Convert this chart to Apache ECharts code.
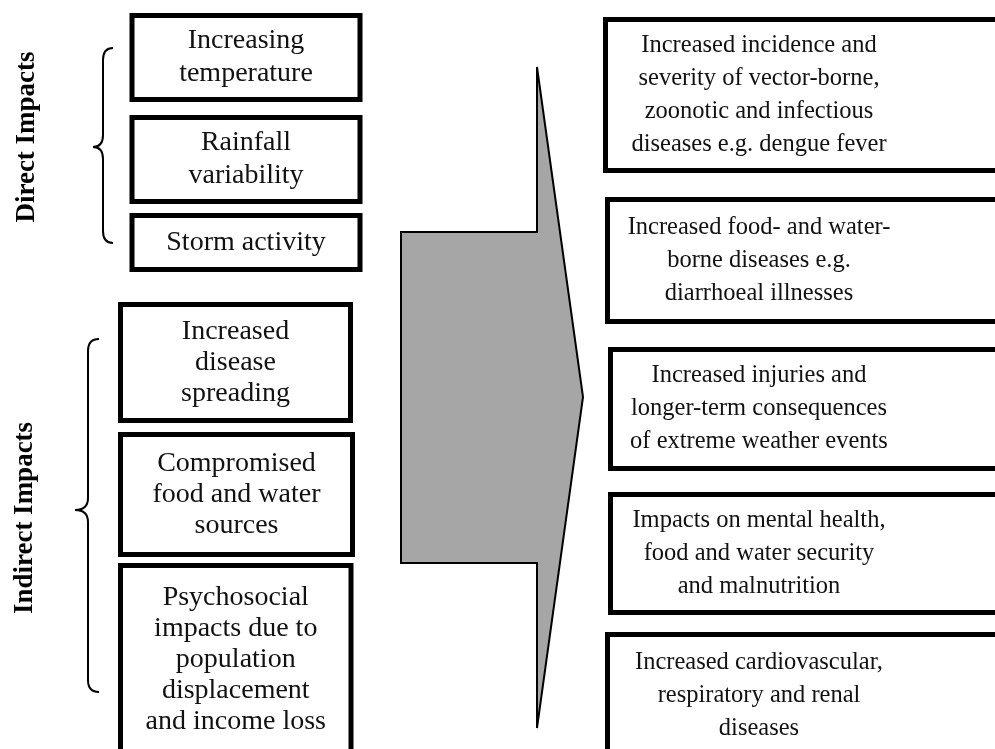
<!DOCTYPE html>
<html>
<head>
<meta charset="utf-8">
<script src="https://cdn.jsdelivr.net/npm/echarts@6/dist/echarts.min.js"></script>
<style>
  html, body { margin: 0; padding: 0; background: #fff; }
  #chart { width: 995px; height: 749px; }
</style>
</head>
<body>
<div id="chart"></div>
<script>
// 左侧：直接影响
const directLabels = ['Increasing\ntemperature', 'Rainfall\nvariability', 'Storm activity']
const directLeft = [132, 132, 132]
const directRight = [360, 360, 360]
const directTop = [15.5, 117.5, 215.5]
const directBottom = [99.5, 201.5, 269.5]

// 左侧：间接影响
const indirectLabels = [
  'Increased\ndisease\nspreading',
  'Compromised\nfood and water\nsources',
  'Psychosocial\nimpacts due to\npopulation\ndisplacement\nand income loss'
]
const indirectLeft = [120.5, 120.5, 120.5]
const indirectRight = [350.5, 352.5, 351]
const indirectTop = [304.5, 434.5, 565.5]
const indirectBottom = [420.5, 554.5, 754]

// 右侧：健康后果
const outcomeLabels = [
  'Increased incidence and\nseverity of vector-borne,\nzoonotic and infectious\ndiseases e.g. dengue fever',
  'Increased food- and water-\nborne diseases e.g.\ndiarrhoeal illnesses',
  'Increased injuries and\nlonger-term consequences\nof extreme weather events',
  'Impacts on mental health,\nfood and water security\nand malnutrition',
  'Increased cardiovascular,\nrespiratory and renal\ndiseases'
]
const outcomeLeft = [605.5, 607.5, 610.5, 610.5, 607.5]
const outcomeRight = [1012, 1012, 1012, 1012, 1012]
const outcomeTop = [19.5, 199.5, 349.5, 494.5, 634.5]
const outcomeBottom = [170.5, 321.5, 468.5, 612.5, 757]
const outcomeTextX = [759, 759, 759, 759, 759]

// 中间箭头
const arrowX = [401, 537, 537, 583, 537, 537, 401]
const arrowY = [232, 232, 67, 397, 728, 563, 563]

// 花括号：[尖端x, 竖线x, 钩x, 顶y, 尖端y, 底y]
const braces = [
  [93, 103, 113, 48, 147, 243],
  [75, 88, 99, 339, 510, 692]
]

// 竖排分组标题
const groupNames = ['Direct Impacts', 'Indirect Impacts']
const groupX = [27, 25]
const groupY = [137, 518]

const serif = '"Liberation Serif", "DejaVu Serif", serif'

function boxData(left, right, top, bottom, textX) {
  return left.map((x, i) => [x, top[i], right[i], bottom[i], textX ? textX[i] : (x + right[i]) / 2])
}

function makeBoxRenderer(labels, fontSize, lineHeight) {
  return function (params, api) {
    const p0 = api.coord([api.value(0), api.value(1)])
    const p1 = api.coord([api.value(2), api.value(3)])
    const tc = api.coord([api.value(4), (api.value(1) + api.value(3)) / 2])
    return {
      type: 'group',
      children: [
        {
          type: 'rect',
          shape: { x: p0[0], y: p0[1], width: p1[0] - p0[0], height: p1[1] - p0[1] },
          style: { fill: '#fff', stroke: '#000', lineWidth: 5 }
        },
        {
          type: 'text',
          x: tc[0],
          y: tc[1],
          style: {
            text: labels[params.dataIndex],
            fill: '#111',
            fontFamily: serif,
            fontSize,
            lineHeight,
            align: 'center',
            verticalAlign: 'middle'
          }
        }
      ]
    }
  }
}

function renderArrow(params, api) {
  if (params.dataIndex !== 0) return
  const pts = arrowX.map((x, i) => api.coord([x, arrowY[i]]))
  return {
    type: 'polygon',
    shape: { points: pts },
    style: { fill: '#a6a6a6', stroke: '#000', lineWidth: 2 }
  }
}

function renderBrace(params, api) {
  const tip = api.value(0), stem = api.value(1), hook = api.value(2)
  const top = api.value(3), mid = api.value(4), bot = api.value(5)
  const r = 12
  const c = (x, y) => api.coord([x, y]).join(',')
  const d = [
    'M', c(hook, top),
    'Q', c(stem, top), c(stem, top + r),
    'L', c(stem, mid - r),
    'Q', c(stem, mid), c(tip, mid),
    'Q', c(stem, mid), c(stem, mid + r),
    'L', c(stem, bot - r),
    'Q', c(stem, bot), c(hook, bot)
  ].join(' ')
  return {
    type: 'path',
    shape: { pathData: d },
    style: { fill: null, stroke: '#000', lineWidth: 2 }
  }
}

function renderGroupName(params, api) {
  const p = api.coord([api.value(0), api.value(1)])
  return {
    type: 'text',
    x: p[0],
    y: p[1],
    rotation: Math.PI / 2,
    style: {
      text: groupNames[params.dataIndex],
      fill: '#000',
      fontFamily: serif,
      fontWeight: 'bold',
      fontSize: 27,
      align: 'center',
      verticalAlign: 'middle'
    }
  }
}

const chart = echarts.init(document.getElementById('chart'))

const option = {
  animation: false,
  backgroundColor: '#fff',
  grid: { left: 0, right: 0, top: 0, bottom: 0 },
  xAxis: { type: 'value', min: 0, max: 995, show: false },
  yAxis: { type: 'value', min: 0, max: 749, inverse: true, show: false },
  series: [
    {
      type: 'custom',
      renderItem: renderArrow,
      data: arrowX.map((x, i) => [x, arrowY[i]])
    },
    {
      type: 'custom',
      renderItem: renderBrace,
      data: braces
    },
    {
      type: 'custom',
      renderItem: makeBoxRenderer(directLabels, 28, 33),
      data: boxData(directLeft, directRight, directTop, directBottom)
    },
    {
      type: 'custom',
      renderItem: makeBoxRenderer(indirectLabels, 28, 31),
      data: boxData(indirectLeft, indirectRight, indirectTop, indirectBottom)
    },
    {
      type: 'custom',
      renderItem: makeBoxRenderer(outcomeLabels, 24.5, 33),
      data: boxData(outcomeLeft, outcomeRight, outcomeTop, outcomeBottom, outcomeTextX)
    },
    {
      type: 'custom',
      renderItem: renderGroupName,
      data: groupX.map((x, i) => [x, groupY[i]])
    }
  ]
}

chart.setOption(option)
</script>
</body>
</html>
